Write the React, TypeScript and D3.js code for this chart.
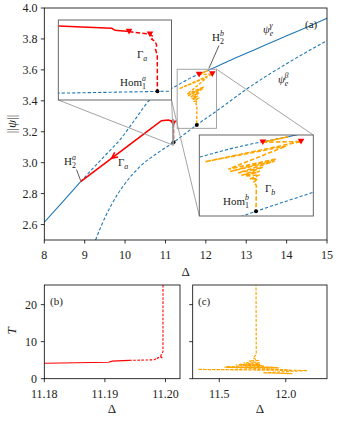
import React from "react";
import * as d3 from "d3";

// ---------------- data ----------------
// equilibrium branch psi_e^gamma (Delta, ||psi||)
const GAMMA_D = [8, 8.45, 8.9, 9.13, 9.5, 9.87, 10.25, 10.61, 10.85, 11.15, 11.6, 12.05, 12.5, 13, 13.5, 14, 14.5, 15];
const GAMMA_V = [2.615, 2.745, 2.877, 2.942, 3.045, 3.147, 3.28, 3.405, 3.445, 3.48, 3.545, 3.596, 3.65, 3.707, 3.764, 3.82, 3.876, 3.933];
const H2A = 8.9;
const H2B = 12.05;
// equilibrium branch psi_e^beta
const BETA_D = [9.27, 9.4, 9.667, 10.0, 10.37, 10.8, 11.19, 11.5, 11.78, 12.26, 13.09, 14, 15];
const BETA_V = [2.5, 2.585, 2.73, 2.865, 2.975, 3.062, 3.13, 3.19, 3.245, 3.333, 3.49, 3.64, 3.789];
// periodic orbit Gamma_a, far part (Delta, ||psi||)
const GA_FAR_D = [8.9, 9.5, 10.0, 10.5, 10.9, 11.07, 11.15];
const GA_FAR_V = [2.877, 2.995, 3.094, 3.192, 3.2715, 3.276, 3.27];
// Gamma_a near the homoclinic point (Delta, ||psi||, period T)
const GA_D = [11.18, 11.1906, 11.1912, 11.194, 11.19815, 11.1988, 11.19848, 11.19914, 11.19947, 11.19924, 11.19959, 11.1996];
const GA_V = [3.2667, 3.2619, 3.2578, 3.2551, 3.2496, 3.2444, 3.2393, 3.2351, 3.2269, 3.2187, 3.2063, 3.132];
const GA_T = [4.16, 4.45, 4.75, 4.95, 5.1, 5.7, 5.3, 6.0, 5.6, 6.3, 7.3, 40];
const GA_STABLE_END = 3; // index where solid part ends
// periodic orbit Gamma_b (Delta, ||psi||, period T)
const GB_D = [12.05, 11.833, 12.16, 11.34, 12.034, 11.539, 11.949, 11.553, 11.935, 11.623, 11.833, 11.65, 11.808, 11.682, 11.805, 11.723, 11.79, 11.755, 11.778, 11.775];
const GB_V = [3.596, 3.570, 3.573, 3.478, 3.552, 3.443, 3.491, 3.432, 3.481, 3.425, 3.452, 3.413, 3.433, 3.41, 3.416, 3.397, 3.397, 3.382, 3.366, 3.244];
const GB_T = [1.35, 1.6, 2.2, 2.5, 2.35, 3.1, 2.9, 3.3, 3.0, 3.7, 3.5, 3.9, 3.8, 4.3, 4.2, 4.8, 4.9, 5.6, 6.5, 40];
const GB_STABLE_END = 1;
// ticks
const MAIN_X_TICKS = [8, 9, 10, 11, 12, 13, 14, 15];
const MAIN_Y_TICKS = [2.6, 2.8, 3.0, 3.2, 3.4, 3.6, 3.8, 4.0];
const B_X_TICKS = [11.18, 11.19, 11.2];
const C_X_TICKS = [11.5, 12.0];
const T_TICKS = [0, 10, 20];
// axis domains
const MAIN_XD = [8, 15];
const MAIN_YD = [2.5, 4.0];
const INA_XD = [11.18, 11.2024];
const INA_YD = [3.1141, 3.279];
const INB_XD = [11.29, 12.265];
const INB_YD = [3.222, 3.604];
const B_XD = [11.18, 11.2024];
const C_XD = [11.3, 12.31];
const T_D = [0, 25.3];

// ---------------- layout ----------------
const W = 341, H = 421;
const MAIN = { l: 44.3, r: 327, t: 8, b: 240 };
const PB = { l: 44.3, r: 180, t: 285, b: 378.7 };
const PC = { l: 192.7, r: 327, t: 285, b: 378.7 };
const INA = { l: 58.3, r: 171.5, t: 20, b: 100 };
const INB = { l: 199.3, r: 313.3, t: 135, b: 216 };

const BLUE = "#1f77b4";
const RED = "#ff0000";
const ORANGE = "#ffa500";
const FONT = "'Liberation Serif', 'DejaVu Serif', serif";

const xM = d3.scaleLinear().domain(MAIN_XD).range([MAIN.l, MAIN.r]);
const yM = d3.scaleLinear().domain(MAIN_YD).range([MAIN.b, MAIN.t]);
const xA = d3.scaleLinear().domain(INA_XD).range([INA.l, INA.r]);
const yA = d3.scaleLinear().domain(INA_YD).range([INA.b, INA.t]);
const xB = d3.scaleLinear().domain(INB_XD).range([INB.l, INB.r]);
const yB = d3.scaleLinear().domain(INB_YD).range([INB.b, INB.t]);
const xb = d3.scaleLinear().domain(B_XD).range([PB.l, PB.r]);
const xc = d3.scaleLinear().domain(C_XD).range([PC.l, PC.r]);
const yT = d3.scaleLinear().domain(T_D).range([PB.b, PB.t]);

type S = (v: number) => number;
function path(xs: number[], ys: number[], sx: S, sy: S, curve: any = d3.curveLinear) {
  const pts = xs.map((x, i) => [x, ys[i]] as [number, number]);
  return d3.line<[number, number]>().x((d) => sx(d[0])).y((d) => sy(d[1])).curve(curve)(pts) || "";
}
function sliceRange(xs: number[], ys: number[], lo: number, hi: number) {
  const ox: number[] = [], oy: number[] = [];
  xs.forEach((x, i) => { if (x >= lo - 1e-9 && x <= hi + 1e-9) { ox.push(x); oy.push(ys[i]); } });
  return [ox, oy] as const;
}
const tri = (x: number, y: number, s = 1) =>
  `M${x - 3.3 * s},${y - 2.8 * s}L${x + 3.3 * s},${y - 2.8 * s}L${x},${y + 2.9 * s}Z`;

// psi_e curves drawn with given scales
function Equilibria({ sx, sy, clip, w = 1 }: { sx: S; sy: S; clip: string; w?: number }) {
  const [g1x, g1y] = sliceRange(GAMMA_D, GAMMA_V, 8, H2A);
  const [g2x, g2y] = sliceRange(GAMMA_D, GAMMA_V, H2A, H2B);
  const [g3x, g3y] = sliceRange(GAMMA_D, GAMMA_V, H2B, 15);
  const mono = d3.curveMonotoneX;
  return (
    <g clipPath={`url(#${clip})`} fill="none">
      <path d={path(g1x, g1y, sx, sy, mono)} stroke={BLUE} strokeWidth={1.1 * w} />
      <path d={path(g2x, g2y, sx, sy, mono)} stroke={BLUE} strokeWidth={1.1 * w} strokeDasharray="3.2,2" />
      <path d={path(g3x, g3y, sx, sy, mono)} stroke={BLUE} strokeWidth={1.1 * w} />
      <path d={path(BETA_D, BETA_V, sx, sy, mono)} stroke={BLUE} strokeWidth={1.1 * w} strokeDasharray="3.2,2" />
    </g>
  );
}

function Frame({ b, stroke = "#000", w = 0.8 }: { b: any; stroke?: string; w?: number }) {
  return <rect x={b.l} y={b.t} width={b.r - b.l} height={b.b - b.t} fill="none" stroke={stroke} strokeWidth={w} />;
}

function MathLabel({ x, y, base, sub, sup, size = 11, italicBase = false, anchor }: any) {
  const s = size * 0.72;
  return (
    <text x={x} y={y} fontFamily={FONT} fontSize={size} fill="#222" textAnchor={anchor}>
      <tspan fontStyle={italicBase ? "italic" : "normal"}>{base}</tspan>
      {sub !== undefined && (
        <tspan fontSize={s} dy={size * 0.28} fontStyle={/[0-9]/.test(sub) ? "normal" : "italic"}>{sub}</tspan>
      )}
      {sup !== undefined && (
        <tspan fontSize={s} dx={sub !== undefined ? -s * 0.5 : 0} dy={sub !== undefined ? -size * 0.72 : -size * 0.42} fontStyle="italic">{sup}</tspan>
      )}
    </text>
  );
}

export default function App() {
  const gaMainSolidX = [...GA_FAR_D, ...GA_D.slice(0, GA_STABLE_END + 1)];
  const gaMainSolidY = [...GA_FAR_V, ...GA_V.slice(0, GA_STABLE_END + 1)];
  const gaDashX = GA_D.slice(GA_STABLE_END);
  const gaDashY = GA_V.slice(GA_STABLE_END);
  const gaDashT = GA_T.slice(GA_STABLE_END);
  const gbSolidX = GB_D.slice(0, GB_STABLE_END + 1);
  const gbSolidY = GB_V.slice(0, GB_STABLE_END + 1);
  const gbSolidT = GB_T.slice(0, GB_STABLE_END + 1);
  const gbDashX = GB_D.slice(GB_STABLE_END);
  const gbDashY = GB_V.slice(GB_STABLE_END);
  const gbDashT = GB_T.slice(GB_STABLE_END);

  // arrow on Gamma_a (main)
  const gaInterp = d3.scaleLinear().domain(GA_FAR_D).range(GA_FAR_V);
  const aTip = [xM(9.67), yM(gaInterp(9.67))];
  const aBack = [xM(9.95), yM(gaInterp(9.95))];
  const dx = aBack[0] - aTip[0], dy = aBack[1] - aTip[1];
  const L = Math.hypot(dx, dy);
  const ux = dx / L, uy = dy / L;
  const wing = (ang: number) => {
    const c = Math.cos(ang), s = Math.sin(ang);
    return [aTip[0] + 6.5 * (ux * c - uy * s), aTip[1] + 6.5 * (ux * s + uy * c)];
  };
  const w1 = wing(0.45), w2 = wing(-0.45);

  const rA = { l: xM(INA_XD[0]), r: xM(INA_XD[1]), t: yM(INA_YD[1]), b: yM(INA_YD[0]) };
  const rB = { l: xM(INB_XD[0]), r: xM(INB_XD[1]), t: yM(INB_YD[1]), b: yM(INB_YD[0]) };

  const homA = [GA_D[GA_D.length - 1], GA_V[GA_V.length - 1]];
  const homB = [GB_D[GB_D.length - 1], GB_V[GB_V.length - 1]];
  const h2bY = d3.scaleLinear().domain(GAMMA_D).range(GAMMA_V)(H2B);
  const h2aY = d3.scaleLinear().domain(GAMMA_D).range(GAMMA_V)(H2A);

  const tickFont = 12;

  return (
    <svg width={W} height={H} style={{ position: "absolute", left: 0, top: 0, background: "#fff" }}>
      <defs>
        <clipPath id="cm"><rect x={MAIN.l} y={MAIN.t} width={MAIN.r - MAIN.l} height={MAIN.b - MAIN.t} /></clipPath>
        <clipPath id="ca"><rect x={INA.l} y={INA.t} width={INA.r - INA.l} height={INA.b - INA.t} /></clipPath>
        <clipPath id="cb"><rect x={INB.l} y={INB.t} width={INB.r - INB.l} height={INB.b - INB.t} /></clipPath>
        <clipPath id="cpb"><rect x={PB.l} y={PB.t} width={PB.r - PB.l} height={PB.b - PB.t} /></clipPath>
        <clipPath id="cpc"><rect x={PC.l} y={PC.t} width={PC.r - PC.l} height={PC.b - PC.t} /></clipPath>
      </defs>
      <rect x={0} y={0} width={W} height={H} fill="#fff" />

      {/* ================= main panel (a) ================= */}
      <Equilibria sx={xM} sy={yM} clip="cm" />
      <g clipPath="url(#cm)" fill="none">
        <path d={path(gaMainSolidX, gaMainSolidY, xM, yM)} stroke={RED} strokeWidth={1.6} />
        <path d={path(gaDashX, gaDashY, xM, yM)} stroke={RED} strokeWidth={1.5} strokeDasharray="4,2" />
        <path d={`M${w1[0]},${w1[1]}L${aTip[0]},${aTip[1]}L${w2[0]},${w2[1]}`} stroke={RED} strokeWidth={1.6} />
        <path d={path(gbSolidX, gbSolidY, xM, yM)} stroke={ORANGE} strokeWidth={1.4} />
        <path d={path(gbDashX, gbDashY, xM, yM)} stroke={ORANGE} strokeWidth={1.4} strokeDasharray="3,1.6" />
        <path d={tri(xM(GA_D[GA_STABLE_END]), yM(GA_V[GA_STABLE_END]))} fill={RED} />
        <path d={tri(xM(GB_D[1]), yM(GB_V[1]))} fill={RED} />
        <path d={tri(xM(GB_D[2]), yM(GB_V[2]))} fill={RED} />
        <circle cx={xM(homA[0])} cy={yM(homA[1])} r={2} fill="#000" />
        <circle cx={xM(homB[0])} cy={yM(homB[1])} r={2} fill="#000" />
      </g>

      {/* inset marks and connectors */}
      <g fill="none" stroke="#999" strokeWidth={0.9}>
        <rect x={rA.l} y={rA.t} width={rA.r - rA.l} height={rA.b - rA.t} />
        <rect x={rB.l} y={rB.t} width={rB.r - rB.l} height={rB.b - rB.t} />
        <line x1={INA.l} y1={INA.b} x2={rA.l} y2={rA.b} />
        <line x1={INA.r} y1={INA.b} x2={rA.r} y2={rA.b} />
        <line x1={INA.r} y1={INA.b} x2={INB.l} y2={INB.b} />
        <line x1={rB.r} y1={rB.t} x2={INB.r} y2={INB.t} />
      </g>

      {/* H2 leaders */}
      <line x1={219} y1={45.5} x2={xM(H2B) + 1} y2={yM(h2bY) - 2} stroke="#333" strokeWidth={0.8} />
      <line x1={76.5} y1={169.5} x2={xM(H2A)} y2={yM(h2aY) - 1} stroke="#333" strokeWidth={0.8} />

      {/* ---------- inset A ---------- */}
      <rect x={INA.l} y={INA.t} width={INA.r - INA.l} height={INA.b - INA.t} fill="#fff" />
      <Equilibria sx={xA} sy={yA} clip="ca" />
      <g clipPath="url(#ca)" fill="none">
        <path d={path(GA_D.slice(0, GA_STABLE_END + 1), GA_V.slice(0, GA_STABLE_END + 1), xA, yA)} stroke={RED} strokeWidth={1.5} />
        <path d={path(gaDashX, gaDashY, xA, yA)} stroke={RED} strokeWidth={1.5} strokeDasharray="4.5,2.2" />
        <path d={tri(xA(GA_D[GA_STABLE_END]), yA(GA_V[GA_STABLE_END]))} fill={RED} />
        <path d={tri(xA(GA_D[4]), yA(GA_V[4]))} fill={RED} />
        <circle cx={xA(homA[0])} cy={yA(homA[1])} r={2} fill="#000" />
      </g>
      <Frame b={INA} stroke="#555" w={0.9} />
      <MathLabel x={137} y={58} base="Γ" sub="a" size={11} />
      <MathLabel x={120} y={86} base="Hom" sub="1" sup="a" size={11} />

      {/* ---------- inset B ---------- */}
      <rect x={INB.l} y={INB.t} width={INB.r - INB.l} height={INB.b - INB.t} fill="#fff" />
      <Equilibria sx={xB} sy={yB} clip="cb" />
      <g clipPath="url(#cb)" fill="none">
        <path d={path(gbSolidX, gbSolidY, xB, yB)} stroke={ORANGE} strokeWidth={1.6} />
        <path d={path(gbDashX, gbDashY, xB, yB)} stroke={ORANGE} strokeWidth={1.6} strokeDasharray="4.5,2" />
        <path d={tri(xB(GB_D[1]), yB(GB_V[1]))} fill={RED} />
        <path d={tri(xB(GB_D[2]), yB(GB_V[2]))} fill={RED} />
        <circle cx={xB(homB[0])} cy={yB(homB[1])} r={2} fill="#000" />
      </g>
      <Frame b={INB} stroke="#555" w={0.9} />
      <MathLabel x={265} y={192} base="Γ" sub="b" size={11} />
      <MathLabel x={223} y={205} base="Hom" sub="1" sup="b" size={11} />

      {/* main frame, ticks */}
      <Frame b={MAIN} />
      {MAIN_X_TICKS.map((t) => (
        <g key={"mx" + t}>
          <line x1={xM(t)} x2={xM(t)} y1={MAIN.b} y2={MAIN.b + 3.5} stroke="#000" strokeWidth={0.8} />
          <text x={xM(t)} y={MAIN.b + 19} textAnchor="middle" fontFamily={FONT} fontSize={tickFont} fill="#222">{t}</text>
        </g>
      ))}
      {MAIN_Y_TICKS.map((t) => (
        <g key={"my" + t}>
          <line x1={MAIN.l - 3.5} x2={MAIN.l} y1={yM(t)} y2={yM(t)} stroke="#000" strokeWidth={0.8} />
          <text x={37.5} y={yM(t) + 4.2} textAnchor="end" fontFamily={FONT} fontSize={tickFont} fill="#222">{t.toFixed(1)}</text>
        </g>
      ))}
      <text x={185.6} y={275.5} textAnchor="middle" fontFamily={FONT} fontSize={13} fill="#222">Δ</text>
      <text transform="translate(16,124) rotate(-90)" textAnchor="middle" fontFamily={FONT} fontSize={13} fill="#222">
        ||<tspan fontStyle="italic">ψ</tspan>||
      </text>
      <MathLabel x={263} y={33} base="ψ" sub="e" sup="γ" italicBase size={11} />
      <MathLabel x={278} y={83} base="ψ" sub="e" sup="β" italicBase size={11} />
      <MathLabel x={212} y={41} base="H" sub="2" sup="b" size={11} />
      <MathLabel x={64} y={165} base="H" sub="2" sup="a" size={11} />
      <MathLabel x={118} y={166} base="Γ" sub="a" size={11} />
      <text x={305} y={28} fontFamily={FONT} fontSize={11} fill="#222">(a)</text>

      {/* ================= panel (b) ================= */}
      <g clipPath="url(#cpb)" fill="none">
        <path d={path(GA_D.slice(0, GA_STABLE_END + 1), GA_T.slice(0, GA_STABLE_END + 1), xb, yT)} stroke={RED} strokeWidth={1.1} />
        <path d={path(gaDashX, gaDashT, xb, yT)} stroke={RED} strokeWidth={1.1} strokeDasharray="2.6,1.5" />
      </g>
      <Frame b={PB} />
      {B_X_TICKS.map((t) => (
        <g key={"bx" + t}>
          <line x1={xb(t)} x2={xb(t)} y1={PB.b} y2={PB.b + 3.5} stroke="#000" strokeWidth={0.8} />
          <text x={xb(t)} y={PB.b + 19} textAnchor="middle" fontFamily={FONT} fontSize={tickFont} fill="#222">{t.toFixed(2)}</text>
        </g>
      ))}
      {T_TICKS.map((t) => (
        <g key={"by" + t}>
          <line x1={PB.l - 3.5} x2={PB.l} y1={yT(t)} y2={yT(t)} stroke="#000" strokeWidth={0.8} />
          <text x={37} y={yT(t) + 4.2} textAnchor="end" fontFamily={FONT} fontSize={tickFont} fill="#222">{t}</text>
        </g>
      ))}
      <text x={50} y={305} fontFamily={FONT} fontSize={11} fill="#222">(b)</text>
      <text x={112} y={413} textAnchor="middle" fontFamily={FONT} fontSize={13} fill="#222">Δ</text>
      <text transform="translate(16,331) rotate(-90)" textAnchor="middle" fontFamily={FONT} fontSize={13} fontStyle="italic" fill="#222">T</text>

      {/* ================= panel (c) ================= */}
      <g clipPath="url(#cpc)" fill="none">
        <path d={path(gbSolidX, gbSolidT, xc, yT)} stroke={ORANGE} strokeWidth={1.2} />
        <path d={path(gbDashX, gbDashT, xc, yT)} stroke={ORANGE} strokeWidth={1.2} strokeDasharray="3,1.5" />
      </g>
      <Frame b={PC} />
      {C_X_TICKS.map((t) => (
        <g key={"cx" + t}>
          <line x1={xc(t)} x2={xc(t)} y1={PC.b} y2={PC.b + 3.5} stroke="#000" strokeWidth={0.8} />
          <text x={xc(t)} y={PC.b + 19} textAnchor="middle" fontFamily={FONT} fontSize={tickFont} fill="#222">{t.toFixed(1)}</text>
        </g>
      ))}
      {T_TICKS.map((t) => (
        <line key={"cy" + t} x1={PC.l - 3.5} x2={PC.l} y1={yT(t)} y2={yT(t)} stroke="#000" strokeWidth={0.8} />
      ))}
      <text x={198} y={305} fontFamily={FONT} fontSize={11} fill="#222">(c)</text>
      <text x={260} y={413} textAnchor="middle" fontFamily={FONT} fontSize={13} fill="#222">Δ</text>
    </svg>
  );
}
